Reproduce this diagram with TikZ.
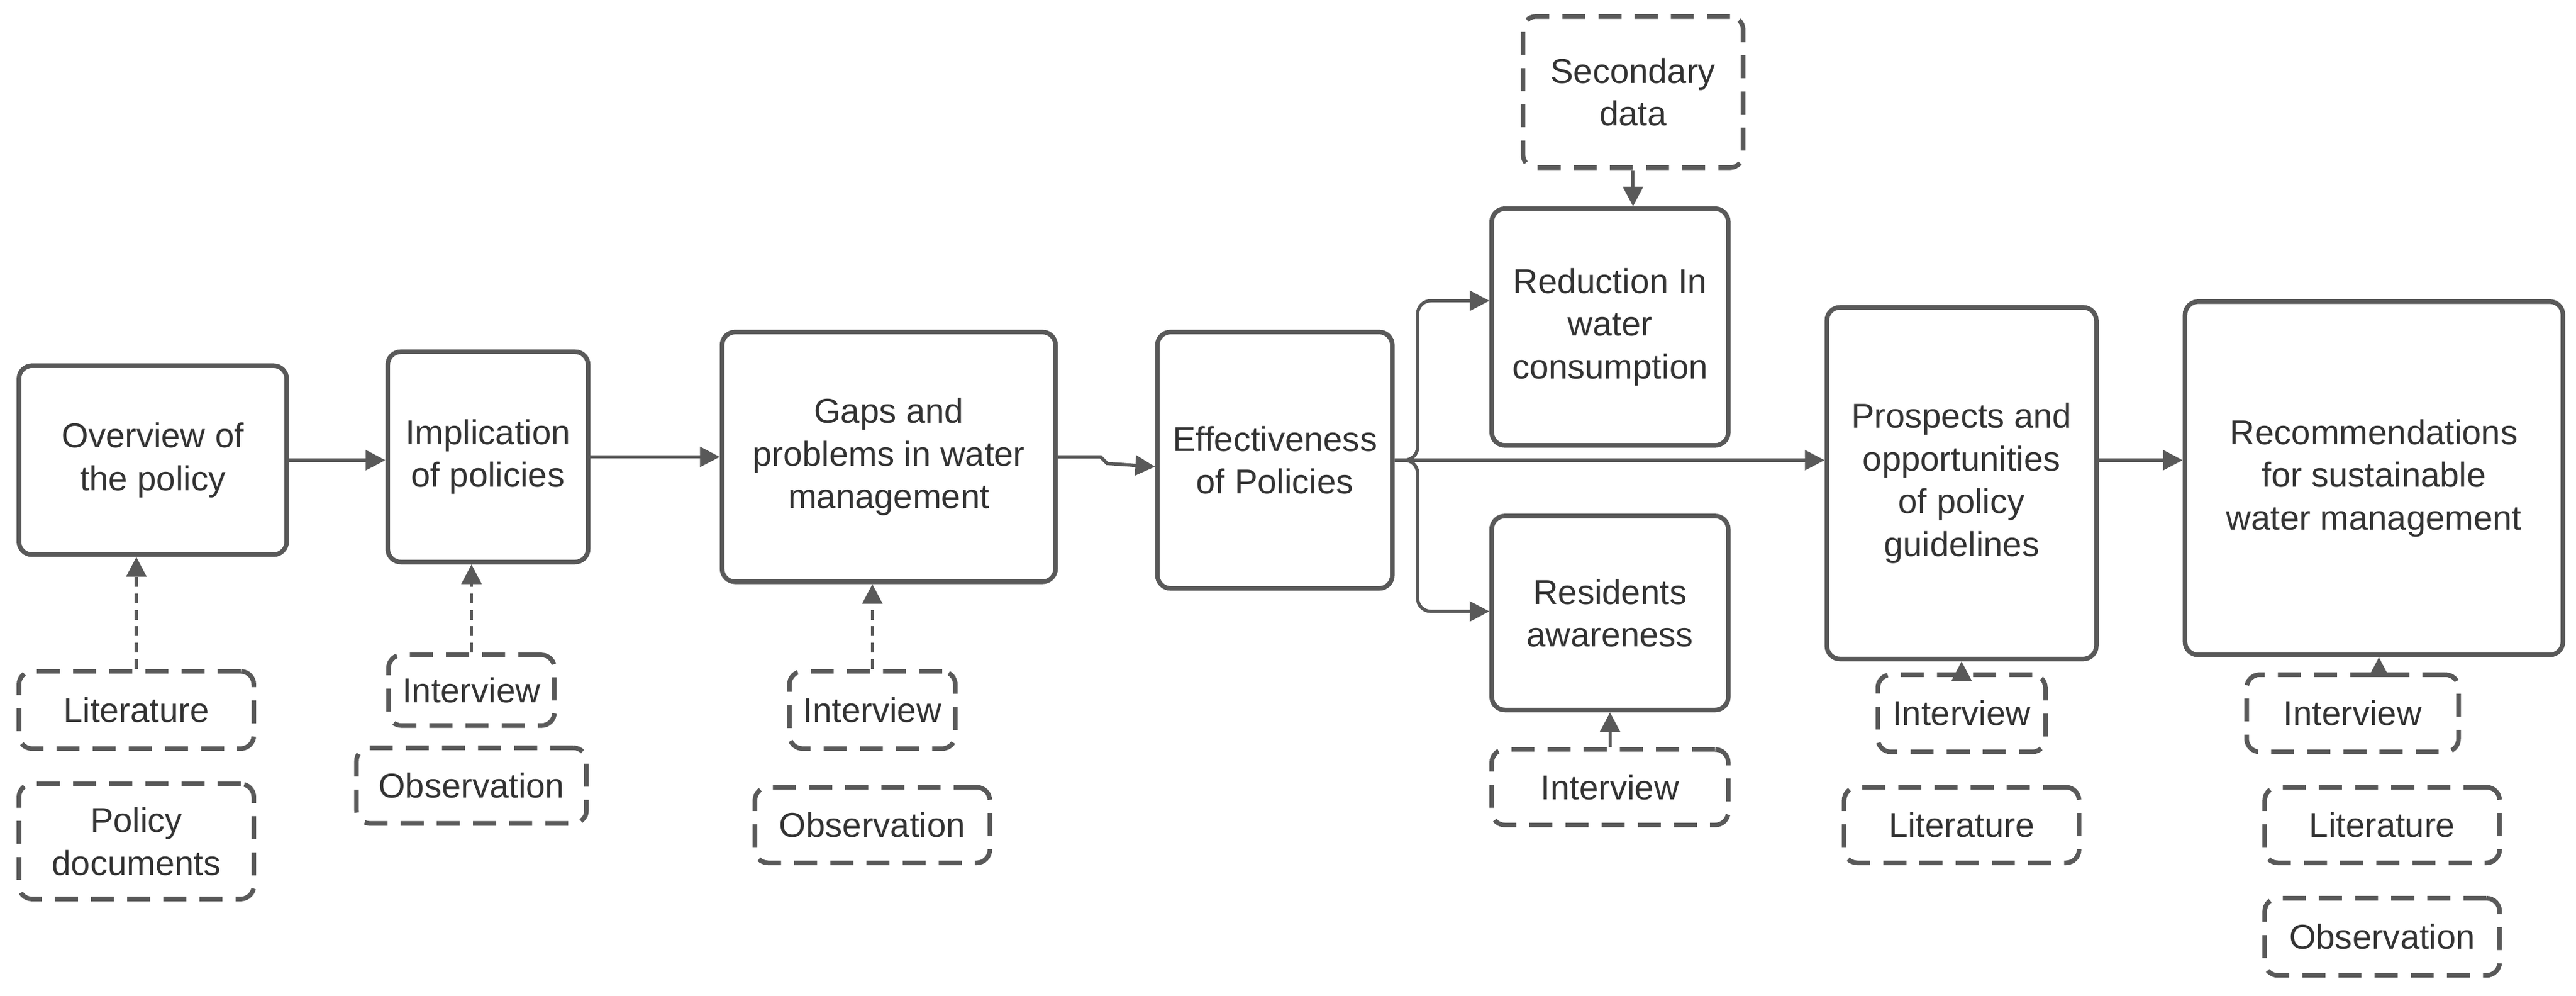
\documentclass[tikz,border=0pt]{standalone}
\usepackage{fontspec}
\setmainfont{Liberation Sans}
\usetikzlibrary{arrows.meta}
\tikzset{
  stage/.style={draw=black!65, line width=1.4pt, rounded corners=4pt, align=center, font=\fontsize{10.5}{13}\selectfont, text=black!80},
  source/.style={stage, dashed, dash pattern=on 7pt off 4pt},
  flow/.style={draw=black!65, line width=1pt, -{Triangle[length=6pt,width=6pt]}},
  feed/.style={flow, dashed, dash pattern=on 3pt off 2pt}
}
\begin{document}
\begin{tikzpicture}[x=0.5pt,y=-0.5pt]
\useasboundingbox (0,0) rectangle (1568,606);

%main stages
\node[stage, minimum width=81.5pt, minimum height=57.5pt] (overview) at (93,280) {Overview of\\the policy};
\node[stage, minimum width=61pt, minimum height=64pt] (implic) at (297,278) {Implication\\of policies};
\node[stage, minimum width=101.5pt, minimum height=76pt] (gaps) at (541,278) {Gaps and\\problems in water\\management};
\node[stage, minimum width=71.5pt, minimum height=78pt] (effect) at (776,280) {Effectiveness\\of Policies};
\node[stage, minimum width=72pt, minimum height=72pt] (reduct) at (980,199) {Reduction In\\water\\consumption};
\node[stage, minimum width=72pt, minimum height=59pt] (resid) at (980,373) {Residents\\awareness};
\node[stage, minimum width=82pt, minimum height=107pt] (prosp) at (1194,294) {Prospects and\\opportunities\\of policy\\guidelines};
\node[stage, minimum width=115pt, minimum height=107.5pt] (recom) at (1445,291) {Recommendations\\for sustainable\\water management};

%data sources
\node[source, minimum width=67pt, minimum height=46pt] (second) at (994,56) {Secondary\\data};
\node[source, minimum width=71.5pt, minimum height=23.5pt] (lit1) at (83,432) {Literature};
\node[source, minimum width=71.5pt, minimum height=35pt] (poldoc) at (83,512) {Policy\\documents};
\node[source, minimum width=50.5pt, minimum height=21.5pt] (int1) at (287,420) {Interview};
\node[source, minimum width=70pt, minimum height=23pt] (obs1) at (287,478) {Observation};
\node[source, minimum width=50.5pt, minimum height=23.5pt] (int2) at (531,432) {Interview};
\node[source, minimum width=71.5pt, minimum height=23pt] (obs2) at (531,502) {Observation};
\node[source, minimum width=72pt, minimum height=23pt] (int3) at (980,479) {Interview};
\node[source, minimum width=51pt, minimum height=23.5pt] (int4) at (1194,434) {Interview};
\node[source, minimum width=71.5pt, minimum height=23pt] (lit2) at (1194,502) {Literature};
\node[source, minimum width=64.5pt, minimum height=23.5pt] (int5) at (1432,434) {Interview};
\node[source, minimum width=71.5pt, minimum height=23pt] (lit3) at (1450,502) {Literature};
\node[source, minimum width=71.5pt, minimum height=23.5pt] (obs3) at (1450,570) {Observation};

%flow
\draw[flow] (overview.east) -- (overview.east -| implic.west);
\draw[flow] (implic) -- (gaps);
\draw[flow] (gaps.east) -- ++(26,0) -- ++(4,4) -- (effect.west |- 0,284);
\draw[flow] (effect.east) -- (effect.east -| prosp.west);
\draw[flow, rounded corners=4pt] (effect.east) -- ++(14,0) |- (reduct.west |- 0,183);
\draw[flow, rounded corners=4pt] (effect.east) -- ++(14,0) |- (resid.west |- 0,372);
\draw[flow] (prosp.east |- 0,280) -- (recom.west |- 0,280);

%inputs
\draw[feed] (lit1) -- (overview.south -| lit1);
\draw[feed] (int1) -- (implic.south -| int1);
\draw[feed] (int2) -- (gaps.south -| int2);
\draw[flow] (int3) -- (resid);
\draw[flow] (int4) -- (prosp);
\draw[feed] (int5.north -| 1448,0) -- (recom.south -| 1448,0);
\draw[flow] (second.south) -- (reduct.north -| second.south);
\end{tikzpicture}
\end{document}
